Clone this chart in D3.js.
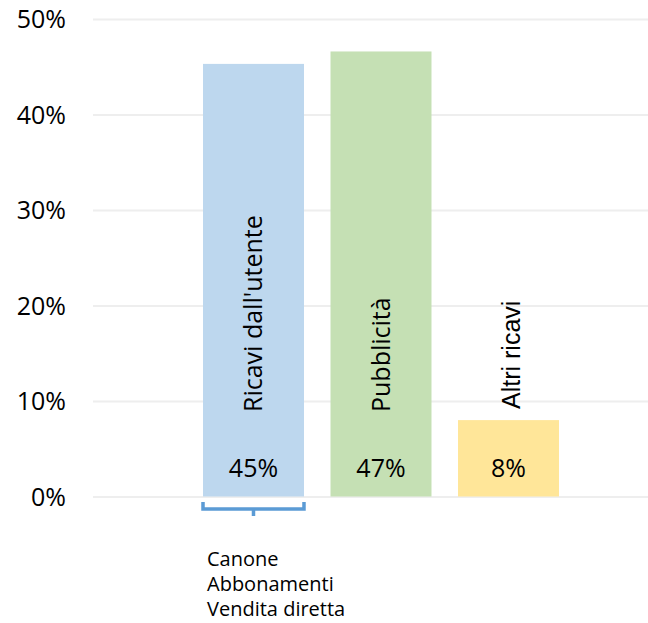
<html>
<head>
<meta charset="utf-8">
<script src="https://d3js.org/d3.v7.min.js"></script>
<style>
  body { margin: 0; background: #fff; }
  .gridlines line { stroke: #eeeeee; stroke-width: 2; }
  .gridlines .domain { stroke: none; }
  text { font-family: "Open Sans", sans-serif; fill: #000; }
</style>
</head>
<body>
<svg id="chart" width="648" height="623"></svg>
<script>
// chart data
const categories = ["Ricavi dall'utente", "Pubblicità", "Altri ricavi"];
const shares = [0.453, 0.466, 0.080];
const barColors = ["#bdd7ee", "#c5e0b4", "#ffe699"];
const yTicks = [0, 0.1, 0.2, 0.3, 0.4, 0.5];
const userItems = ["Canone", "Abbonamenti", "Vendita diretta"];

const svg = d3.select("svg#chart");

const y = d3.scaleLinear().domain([0, 0.5]).range([496.5, 19]);
const x = d3.scaleBand().domain(categories).range([203, 559])
  .paddingInner(0.208).paddingOuter(0);

// gridlines
const grid = svg.append("g").attr("class", "gridlines")
  .attr("transform", "translate(93,0)")
  .call(d3.axisLeft(y).tickValues(yTicks).tickSize(-555).tickFormat(""));

// y labels
svg.append("g").selectAll("text").data(yTicks).join("text")
  .attr("x", 66)
  .attr("y", d => y(d))
  .attr("dy", "0.36em")
  .attr("text-anchor", "end")
  .style("font-size", "25px")
  .text(d3.format(".0%"));

// bars
svg.append("g").selectAll("rect").data(categories).join("rect")
  .attr("x", d => x(d))
  .attr("y", (d, i) => y(shares[i]))
  .attr("width", x.bandwidth())
  .attr("height", (d, i) => y(0) - y(shares[i]))
  .attr("fill", (d, i) => barColors[i]);

// value labels
svg.append("g").selectAll("text").data(categories).join("text")
  .attr("x", d => x(d) + x.bandwidth() / 2)
  .attr("y", 477)
  .attr("text-anchor", "middle")
  .style("font-size", "25px")
  .text((d, i) => d3.format(".0%")(shares[i]));

// rotated category names
svg.append("g").selectAll("text").data(categories).join("text")
  .attr("transform", (d, i) => `translate(${x(d) + x.bandwidth() / 2 + (i == 2 ? 2 : 0)},${i == 2 ? 409 : 412}) rotate(-90)`)
  .attr("dy", "0.36em")
  .style("font-size", (d, i) => i == 2 ? "25px" : "25px")
  .style("font-family", (d, i) => i == 2 ? "'Liberation Sans', Arial, sans-serif" : null)
  .text(d => d);

// bracket under the first bar
const b0 = x(categories[0]), b1 = b0 + x.bandwidth();
const bm = (b0 + b1) / 2;
svg.append("path")
  .attr("d", `M${b0},502 V509 H${b1} V502 M${bm},509 V516`)
  .attr("fill", "none")
  .attr("stroke", "#5b9bd5")
  .attr("stroke-width", 3.5);

// items of user revenue
svg.append("g").selectAll("text").data(userItems).join("text")
  .attr("x", 207)
  .attr("y", (d, i) => 566 + i * 25)
  .style("font-size", "20px")
  .text(d => d);
</script>
</body>
</html>
